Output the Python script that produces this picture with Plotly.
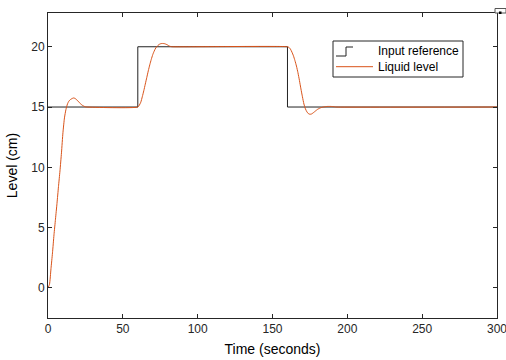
import plotly.graph_objects as go

# Input reference (step)
ref_t = [0, 60, 160, 300]
ref_level = [15, 20, 15, 15]

# Liquid level response
lvl_t = [0, 1, 2, 3, 4, 5, 6, 7, 8, 9, 10, 11, 12, 13, 14, 15, 16, 17, 18, 19, 20,
         21, 22, 23, 24, 25, 26,
         60, 61, 62, 63, 64, 65, 66, 67, 68, 69, 70, 71, 72, 73, 74, 75, 76, 77, 78,
         79, 80, 81, 82, 83,
         160, 161, 162, 163, 164, 165, 166, 167, 168, 169, 170, 171, 172, 173, 174,
         175, 176, 177, 178, 179, 180, 181, 182, 183, 184, 185, 186, 187, 188, 189,
         190, 191, 192, 193, 300]
lvl_val = [0, 0.3, 1.6, 2.9, 4.4, 5.7, 7.0, 8.4, 9.7, 11.2, 12.9, 14.1, 14.8, 15.25,
           15.5, 15.62, 15.7, 15.75, 15.72, 15.62, 15.5, 15.36, 15.24, 15.14, 15.07,
           15.02, 15.0,
           15.0, 15.15, 15.4, 15.85, 16.35, 16.9, 17.45, 18.0, 18.5, 18.95, 19.35,
           19.65, 19.9, 20.05, 20.17, 20.24, 20.27, 20.27, 20.25, 20.2, 20.14, 20.06,
           20.02, 20.0,
           20.0, 19.95, 19.8, 19.55, 19.25, 18.85, 18.4, 17.85, 17.2, 16.5, 15.85,
           15.25, 14.85, 14.6, 14.45, 14.4, 14.42, 14.5, 14.6, 14.7, 14.8, 14.87,
           14.93, 14.97, 15.0, 15.02, 15.04, 15.05, 15.05, 15.05, 15.04, 15.03, 15.01,
           15.0, 15.0]

x_ticks = [0, 50, 100, 150, 200, 250, 300]
y_ticks = [0, 5, 10, 15, 20]

AX = "#262626"
ORANGE = "#D95319"
FONT = "Liberation Sans, Arial, sans-serif"

fig = go.Figure()
fig.add_trace(go.Scatter(x=ref_t, y=ref_level, mode="lines", line_shape="hv",
                         line=dict(color="#222222", width=1), name="Input reference"))
fig.add_trace(go.Scatter(x=lvl_t, y=lvl_val, mode="lines", line_shape="spline",
                         line=dict(color=ORANGE, width=1, smoothing=0.6),
                         name="Liquid level"))

ax_common = dict(showgrid=False, zeroline=False, showline=True, linecolor=AX, linewidth=1,
                 mirror="ticks", ticks="inside", ticklen=4, tickcolor=AX, automargin=False,
                 ticklabeloverflow="allow",
                 tickfont=dict(family=FONT, size=12, color=AX))

fig.update_xaxes(range=[0, 300], tickvals=x_ticks, ticktext=[str(v) for v in x_ticks],
                 title=dict(text="Time (seconds)", font=dict(family=FONT, size=14, color="#000"),
                            standoff=8), **ax_common)
fig.update_yaxes(range=[-2.5, 22.8], tickvals=y_ticks, ticktext=[str(v) for v in y_ticks],
                 title=dict(text="Level (cm)", font=dict(family=FONT, size=14, color="#000"),
                            standoff=10), **ax_common)

W, H = 506, 360
L, R, T, B = 48, 9, 13, 42
pw, ph = W - L - R, H - T - B


def px(x):
    return (x - L) / pw


def py(y):
    return (H - B - y) / ph


shapes = [
    # legend box
    dict(type="rect", xref="paper", yref="paper", x0=px(333), x1=px(463), y0=py(77), y1=py(41),
         line=dict(color=AX, width=1), fillcolor="white", layer="above"),
    # step icon
    dict(type="path", xref="paper", yref="paper",
         path=f"M {px(336)},{py(56)} L {px(346)},{py(56)} L {px(346)},{py(47)} L {px(353)},{py(47)}",
         line=dict(color="#222222", width=1), layer="above"),
    # orange legend line
    dict(type="line", xref="paper", yref="paper", x0=px(336), x1=px(373), y0=py(66.7), y1=py(66.7),
         line=dict(color=ORANGE, width=1), layer="above"),
    # small corner tab
    dict(type="rect", xref="paper", yref="paper", x0=px(495), x1=px(506), y0=py(13), y1=py(8.5),
         line=dict(color="#555555", width=1), fillcolor="white", layer="above"),
    dict(type="rect", xref="paper", yref="paper", x0=px(499), x1=px(501.5), y0=py(14), y1=py(11.5),
         line=dict(color="#000", width=0), fillcolor="#000", layer="above"),
]

annotations = [
    dict(text="Input reference", xref="paper", yref="paper", x=px(376), y=py(50.7),
         xanchor="left", yanchor="middle", showarrow=False,
         font=dict(family=FONT, size=12, color="#000")),
    dict(text="Liquid level", xref="paper", yref="paper", x=px(376), y=py(66.7),
         xanchor="left", yanchor="middle", showarrow=False,
         font=dict(family=FONT, size=12, color="#000")),
]

fig.update_layout(width=W, height=H, margin=dict(l=L, r=R, t=T, b=B, autoexpand=False),
                  plot_bgcolor="white", paper_bgcolor="white", showlegend=False,
                  shapes=shapes, annotations=annotations)

fig.write_html("out.html", config={"displayModeBar": False},
               post_script="document.body.style.margin='0px';document.body.style.overflow='hidden';")
